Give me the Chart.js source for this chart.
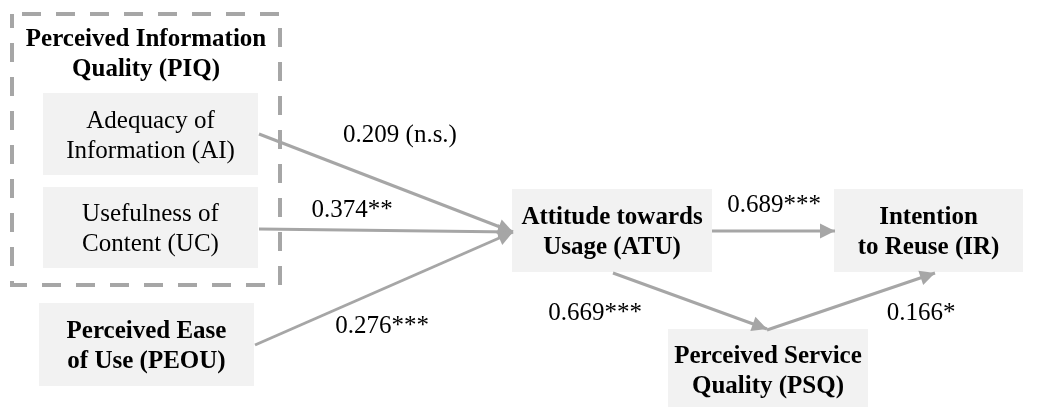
<!DOCTYPE html>
<html>
<head>
    <title>Path model</title>
    <script src="https://cdn.jsdelivr.net/npm/chart.js"></script>
    <style>
        body { margin: 0; background: #fff; }
    </style>
</head>
<body>
<canvas id="pathChart" width="1058" height="407"></canvas>
<script>
    // Constructs (node labels, one entry per line)
    const nodeIds = ['AI', 'UC', 'PEOU', 'ATU', 'IR', 'PSQ'];
    const nodeLines = [
        ['Adequacy of', 'Information (AI)'],
        ['Usefulness of', 'Content (UC)'],
        ['Perceived Ease', 'of Use (PEOU)'],
        ['Attitude towards', 'Usage (ATU)'],
        ['Intention', 'to Reuse (IR)'],
        ['Perceived Service', 'Quality (PSQ)']
    ];
    const nodeBold = [false, false, true, true, true, true];
    const groupTitle = ['Perceived Information', 'Quality (PIQ)'];

    // Paths and their coefficients
    const pathFrom = ['AI', 'UC', 'PEOU', 'ATU', 'ATU', 'PSQ'];
    const pathTo = ['ATU', 'ATU', 'ATU', 'IR', 'PSQ', 'IR'];
    const pathCoef = [0.209, 0.374, 0.276, 0.689, 0.669, 0.166];
    const pathSig = [' (n.s.)', '**', '***', '***', '***', '*'];

    // Layout (diagram units = pixels of the 1058x407 picture)
    const boxes = {
        AI:   { x0: 43,  y0: 93,  x1: 258,  y1: 175 },
        UC:   { x0: 43,  y0: 187, x1: 258,  y1: 268 },
        PEOU: { x0: 39,  y0: 303, x1: 254,  y1: 386 },
        ATU:  { x0: 512, y0: 189, x1: 712,  y1: 272 },
        IR:   { x0: 834, y0: 189, x1: 1023, y1: 272 },
        PSQ:  { x0: 668, y0: 329, x1: 868,  y1: 410 }
    };
    const groupBox = { x0: 12, y0: 14, x1: 280, y1: 285 };
    // start / end anchor of each path
    const pathStart = [[259, 134], [259, 229], [255, 345], [712, 231], [613, 273], [767, 330]];
    const pathEnd = [[513, 232], [513, 232], [513, 232], [835, 231], [767, 329], [935, 273]];
    const pathArrow = [true, true, true, true, true, true];
    const labelPos = [[400, 135], [352, 210], [382, 326], [774, 205], [595, 313], [921, 313]];

    const lineColor = '#a6a6a6';
    const boxColor = '#f2f2f2';
    const fontFamily = '"Liberation Serif", "Times New Roman", serif';

    function px(chart, p) {
        return [chart.scales.x.getPixelForValue(p[0]), chart.scales.y.getPixelForValue(p[1])];
    }

    const diagramPlugin = {
        id: 'diagram',
        beforeDatasetsDraw(chart) {
            const ctx = chart.ctx;
            ctx.save();
            // grey boxes
            nodeIds.forEach((id, i) => {
                const b = boxes[id];
                const [x0, y0] = px(chart, [b.x0, b.y0]);
                const [x1, y1] = px(chart, [b.x1, b.y1]);
                ctx.fillStyle = boxColor;
                ctx.fillRect(x0, y0, x1 - x0, y1 - y0);
                ctx.fillStyle = '#000';
                ctx.font = (nodeBold[i] ? 'bold ' : '') + '25px ' + fontFamily;
                ctx.textAlign = 'center';
                ctx.textBaseline = 'middle';
                const cx = (x0 + x1) / 2, cy = (y0 + y1) / 2 + 2;
                const lh = 30;
                nodeLines[i].forEach((t, k) => {
                    ctx.fillText(t, cx, cy + (k - (nodeLines[i].length - 1) / 2) * lh);
                });
            });
            // dashed group frame
            const [g0x, g0y] = px(chart, [groupBox.x0, groupBox.y0]);
            const [g1x, g1y] = px(chart, [groupBox.x1, groupBox.y1]);
            ctx.strokeStyle = lineColor;
            ctx.lineWidth = 4;
            ctx.setLineDash([19, 15]);
            ctx.lineDashOffset = -10;
            ctx.strokeRect(g0x, g0y, g1x - g0x, g1y - g0y);
            ctx.setLineDash([]);
            ctx.fillStyle = '#000';
            ctx.font = 'bold 25px ' + fontFamily;
            ctx.textAlign = 'center';
            ctx.textBaseline = 'middle';
            ctx.fillText(groupTitle[0], (g0x + g1x) / 2, g0y + 26);
            ctx.fillText(groupTitle[1], (g0x + g1x) / 2, g0y + 56);
            ctx.restore();
        },
        afterDatasetsDraw(chart) {
            const ctx = chart.ctx;
            ctx.save();
            // arrow heads
            pathEnd.forEach((e, i) => {
                if (!pathArrow[i]) return;
                const [sx, sy] = px(chart, pathStart[i]);
                const [ex, ey] = px(chart, e);
                const a = Math.atan2(ey - sy, ex - sx);
                const len = 15, hw = 7.5;
                ctx.fillStyle = lineColor;
                ctx.beginPath();
                ctx.moveTo(ex, ey);
                ctx.lineTo(ex - len * Math.cos(a) + hw * Math.sin(a), ey - len * Math.sin(a) - hw * Math.cos(a));
                ctx.lineTo(ex - len * Math.cos(a) - hw * Math.sin(a), ey - len * Math.sin(a) + hw * Math.cos(a));
                ctx.closePath();
                ctx.fill();
            });
            // coefficient labels
            ctx.fillStyle = '#000';
            ctx.font = '25px ' + fontFamily;
            ctx.textAlign = 'center';
            ctx.textBaseline = 'middle';
            pathCoef.forEach((c, i) => {
                const [lx, ly] = px(chart, labelPos[i]);
                ctx.fillText(c.toFixed(3) + pathSig[i], lx, ly);
            });
            ctx.restore();
        }
    };

    const datasets = pathCoef.map((c, i) => ({
        label: pathFrom[i] + ' -> ' + pathTo[i],
        data: [
            { x: pathStart[i][0], y: pathStart[i][1] },
            { x: pathEnd[i][0], y: pathEnd[i][1] }
        ],
        borderColor: lineColor,
        borderWidth: 3,
        pointRadius: 0,
        showLine: true,
        fill: false
    }));

    new Chart(document.getElementById('pathChart').getContext('2d'), {
        type: 'scatter',
        data: { datasets },
        options: {
            responsive: false,
            animation: false,
            layout: { padding: 0 },
            plugins: { legend: { display: false }, tooltip: { enabled: false } },
            scales: {
                x: { type: 'linear', min: 0, max: 1058, display: false },
                y: { type: 'linear', min: 0, max: 407, reverse: true, display: false }
            }
        },
        plugins: [diagramPlugin]
    });
</script>
</body>
</html>
